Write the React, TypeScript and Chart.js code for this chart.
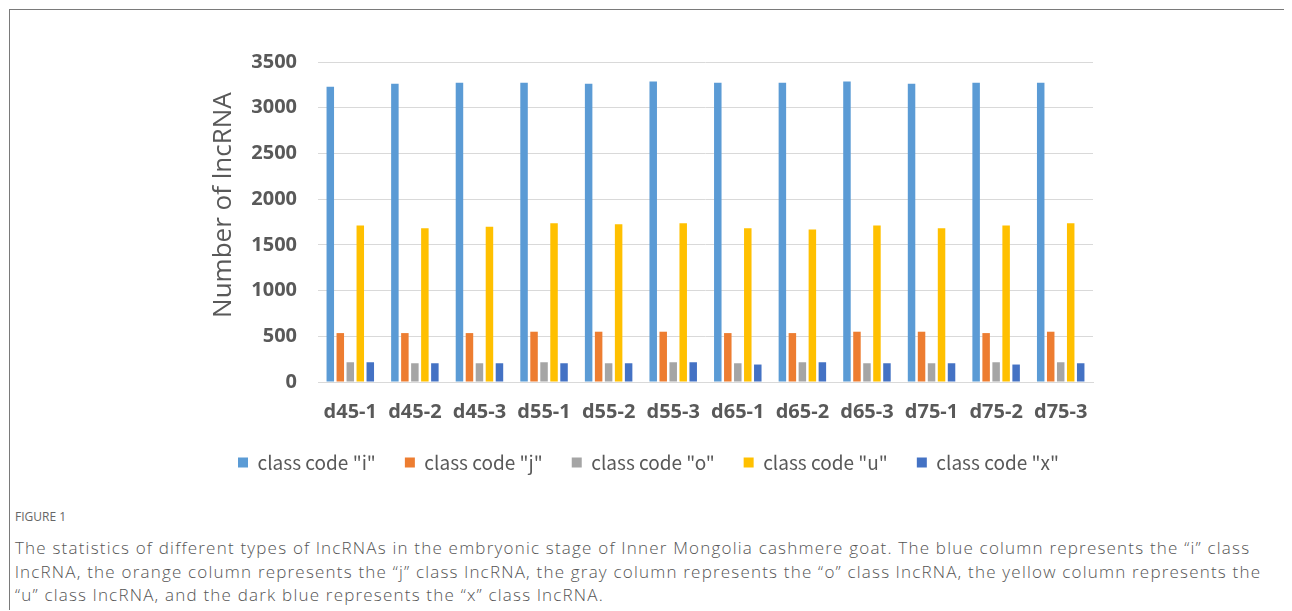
import React, { useEffect, useRef } from "react";
import { Chart, registerables } from "chart.js";

Chart.register(...registerables);

const categories = ["d45-1", "d45-2", "d45-3", "d55-1", "d55-2", "d55-3", "d65-1", "d65-2", "d65-3", "d75-1", "d75-2", "d75-3"];
const classI = [3229, 3262, 3273, 3273, 3262, 3288, 3273, 3273, 3288, 3262, 3273, 3273];
const classJ = [535, 535, 535, 550, 550, 550, 535, 535, 550, 550, 535, 550];
const classO = [216, 205, 205, 216, 205, 216, 205, 216, 205, 205, 216, 216];
const classU = [1712, 1682, 1697, 1737, 1726, 1737, 1682, 1668, 1712, 1682, 1712, 1737];
const classX = [216, 205, 205, 205, 205, 216, 191, 216, 205, 205, 191, 205];
const seriesNames = ['class code "i"', 'class code "j"', 'class code "o"', 'class code "u"', 'class code "x"'];
const seriesColors = ["#5B9BD5", "#ED7D31", "#A5A5A5", "#FFC000", "#4472C4"];
const yTicks = [0, 500, 1000, 1500, 2000, 2500, 3000, 3500];
const yTitle = "Number of lncRNA";

const captionTitle = "FIGURE 1";
const captionLines = [
  "The statistics of different types of lncRNAs in the embryonic stage of Inner Mongolia cashmere goat. The blue column represents the \u201ci\u201d class",
  "lncRNA, the orange column represents the \u201cj\u201d class lncRNA, the gray column represents the \u201co\u201d class lncRNA, the yellow column represents the",
  "\u201cu\u201d class lncRNA, and the dark blue represents the \u201cx\u201d class lncRNA.",
];

const legendShift = {
  id: "legendShift",
  beforeDraw(chart: any) {
    const lg = chart.legend;
    if (!lg) return;
    const w = lg.right - lg.left;
    const pad = lg.options.labels.padding || 10;
    lg.left = 228 - pad;
    lg.right = lg.left + w;
  },
};

export default function App() {
  const ref = useRef<HTMLCanvasElement>(null);
  useEffect(() => {
    document.body.style.overflow = "hidden";
    const ctx = ref.current!;
    const values = [classI, classJ, classO, classU, classX];
    const chart = new Chart(ctx, {
      type: "bar",
      data: {
        labels: categories,
        datasets: values.map((v, i) => ({
          label: seriesNames[i],
          data: v,
          backgroundColor: seriesColors[i],
          borderWidth: 0,
          categoryPercentage: 0.774,
          barPercentage: 0.75,
        })),
      },
      options: {
        animation: false,
        responsive: false,
        devicePixelRatio: 1,
        layout: { padding: { left: 195, right: 17, top: 52, bottom: 6 } },
        plugins: {
          tooltip: { enabled: false },
          legend: {
            position: "bottom",
            align: "start",
            labels: {
              boxWidth: 10,
              boxHeight: 10,
              padding: 29,
              color: "#595959",
              font: { family: "'Noto Sans CJK SC', 'Open Sans', sans-serif", size: 19 },
            },
          },
        },
        scales: {
          x: {
            grid: { display: false, drawTicks: false },
            border: { display: true, color: "#d9d9d9", width: 1 },
            ticks: {
              autoSkip: false,
              maxRotation: 0,
              padding: 18,
              color: "#595959",
              font: { family: "'Open Sans', sans-serif", size: 20, weight: "bold" },
            },
            afterFit: (s: any) => {
              s.height = 42;
            },
          },
          y: {
            min: 0,
            max: 3500,
            afterBuildTicks: (s: any) => {
              s.ticks = yTicks.map((v) => ({ value: v }));
            },
            grid: { color: "#d9d9d9", lineWidth: 1, drawTicks: false },
            border: { display: false },
            ticks: {
              padding: 21,
              color: "#595959",
              font: { family: "'Open Sans', sans-serif", size: 20, weight: "bold" },
              callback: (v: any) => String(v),
            },
            title: {
              display: true,
              text: "\u00a0\u00a0\u00a0\u00a0\u00a0" + yTitle,
              color: "#595959",
              padding: { top: 3, bottom: 4 },
              font: { family: "'Open Sans', sans-serif", size: 26, weight: 500 },
            },
            afterFit: (s: any) => {
              s.width = 113;
            },
          },
        },
      },
      plugins: [legendShift],
    });
    return () => chart.destroy();
  }, []);

  return (
    <div
      style={{
        position: "relative",
        top: 1,
        left: 1,
        width: 1283,
        height: 602,
        borderTop: "1px solid #7a7a7a",
        borderLeft: "1px solid #7a7a7a",
        boxSizing: "border-box",
        overflow: "hidden",
        background: "#fff",
      }}
    >
      <canvas ref={ref} width={1100} height={478} style={{ position: "absolute", left: 0, top: 0 }} />
      <div
        style={{
          position: "absolute",
          left: 5,
          top: 500,
          fontFamily: "'Open Sans', sans-serif",
          color: "#555",
        }}
      >
        <div style={{ fontSize: 12, lineHeight: "14px", letterSpacing: 0, color: "#666", fontWeight: 400 }}>{captionTitle}</div>
        <div style={{ marginTop: 12, fontSize: 17, lineHeight: "23.5px", fontWeight: 300, letterSpacing: "1.2px" }}>
          {captionLines.map((l, i) => (
            <div key={i} style={{ whiteSpace: "nowrap" }}>{l}</div>
          ))}
        </div>
      </div>
    </div>
  );
}
